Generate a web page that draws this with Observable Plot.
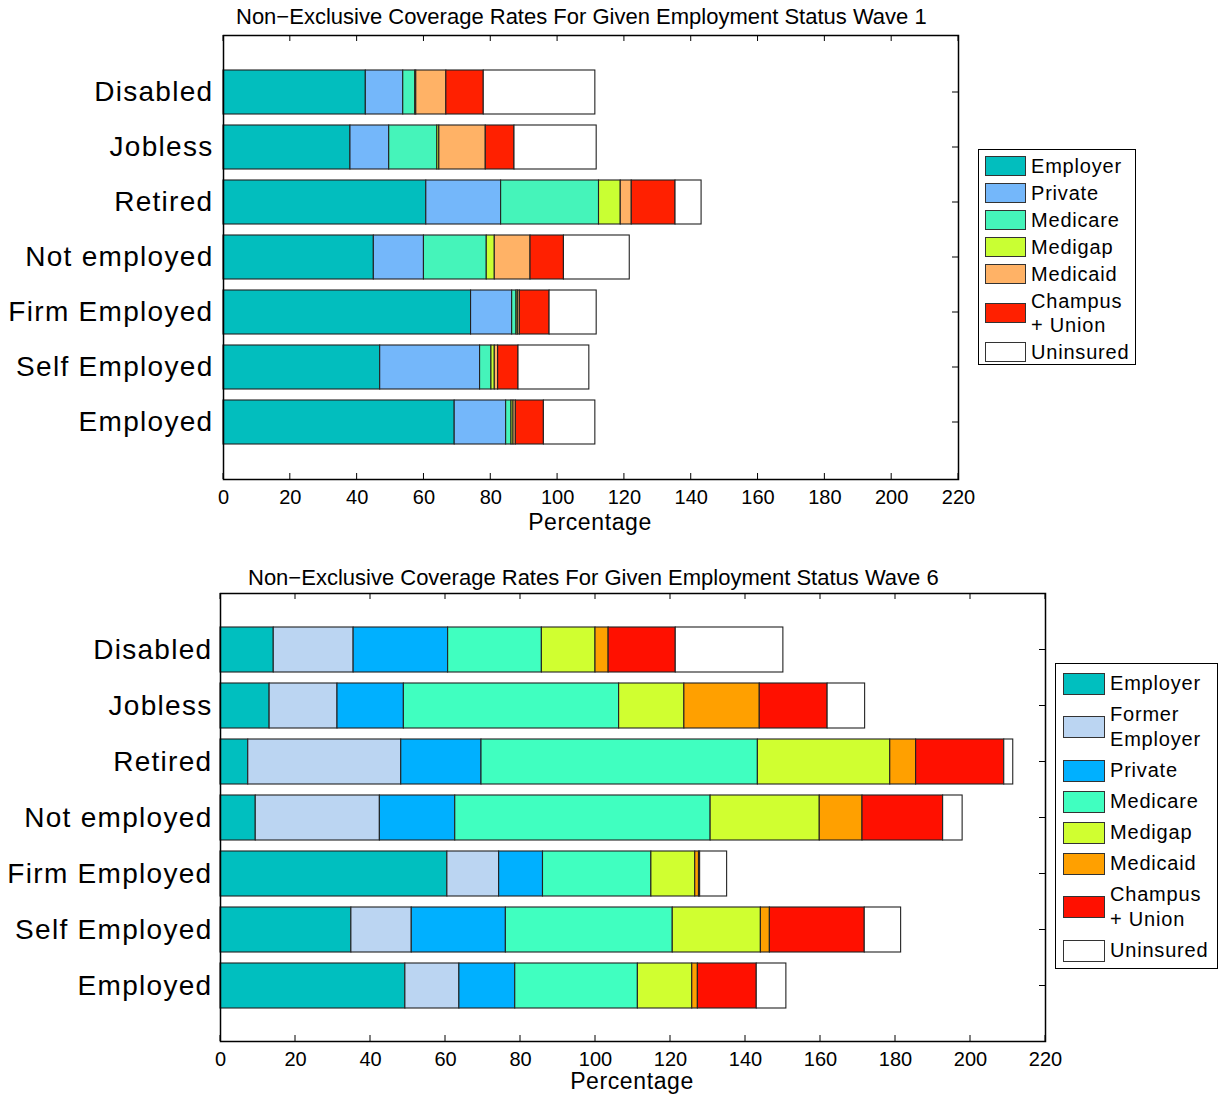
<!DOCTYPE html>
<html>
<head>
<meta charset="utf-8">
<script src="https://cdn.jsdelivr.net/npm/d3@7"></script>
<script src="https://cdn.jsdelivr.net/npm/@observablehq/plot@0.6"></script>
<style>
  html, body { margin: 0; padding: 0; background: #fff; }
  body { width: 1225px; height: 1099px; position: relative; overflow: hidden; font-family: "Liberation Sans", Arial, sans-serif; color: #000; }
  .abs { position: absolute; }
  .title { font-size: 22px; white-space: nowrap; line-height: 22px; }
  .xlab { font-size: 23px; letter-spacing: 0.6px; text-align: center; line-height: 23px; }
  .legend { border: 1px solid #000; background: #fff; box-sizing: border-box; font-size: 20px; letter-spacing: 0.8px; }
  .legend .row { display: flex; align-items: center; }
  .legend .sw { border: 1px solid #333; box-sizing: border-box; flex: none; }
  .legend .lb { margin-left: 5px; white-space: nowrap; }
</style>
</head>
<body>
<script>
// ---------- data ----------
const categories = ["Disabled", "Jobless", "Retired", "Not employed", "Firm Employed", "Self Employed", "Employed"];
const xTicks = [0, 20, 40, 60, 80, 100, 120, 140, 160, 180, 200, 220];

// Wave 1
const w1Series = ["Employer", "Private", "Medicare", "Medigap", "Medicaid", "Champus + Union", "Uninsured"];
const w1Colors = ["#02BEBE", "#74B7FA", "#45F4BA", "#C9FF33", "#FFB266", "#FF2000", "#FFFFFF"];
const w1Employer  = [42.6, 38.0, 60.7, 45.0, 74.1, 46.9, 69.2];
const w1Private   = [11.2, 11.6, 22.4, 15.0, 12.3, 29.9, 15.4];
const w1Medicare  = [3.6, 14.4, 29.3, 18.8, 1.3, 3.4, 1.6];
const w1Medigap   = [0.3, 0.6, 6.5, 2.4, 0.4, 1.0, 0.6];
const w1Medicaid  = [9.0, 13.9, 3.3, 10.7, 0.6, 1.0, 0.7];
const w1Champus   = [11.2, 8.6, 13.1, 10.0, 8.9, 6.1, 8.4];
const w1Uninsured = [33.4, 24.6, 7.8, 19.7, 14.1, 21.2, 15.4];

// Wave 6
const w6Series = ["Employer", "Former Employer", "Private", "Medicare", "Medigap", "Medicaid", "Champus + Union", "Uninsured"];
const w6Colors = ["#00BFBF", "#BBD5F2", "#00B0FF", "#40FFC0", "#D0FF30", "#FFA000", "#FF1000", "#FFFFFF"];
const w6Employer  = [14.2, 13.1, 7.4, 9.4, 60.5, 34.9, 49.3];
const w6Former    = [21.3, 18.1, 40.8, 33.1, 13.8, 16.1, 14.4];
const w6Private   = [25.2, 17.7, 21.4, 20.1, 11.7, 25.1, 14.9];
const w6Medicare  = [25.0, 57.4, 73.7, 68.1, 28.9, 44.5, 32.7];
const w6Medigap   = [14.3, 17.4, 35.3, 29.1, 11.7, 23.5, 14.5];
const w6Medicaid  = [3.5, 20.1, 6.9, 11.4, 1.0, 2.4, 1.5];
const w6Champus   = [17.9, 18.1, 23.5, 21.5, 0.3, 25.3, 15.7];
const w6Uninsured = [28.7, 10.0, 2.4, 5.2, 7.2, 9.7, 7.9];

const w1Values = [w1Employer, w1Private, w1Medicare, w1Medigap, w1Medicaid, w1Champus, w1Uninsured];
const w6Values = [w6Employer, w6Former, w6Private, w6Medicare, w6Medigap, w6Medicaid, w6Champus, w6Uninsured];

function rows(series, values) {
  const out = [];
  categories.forEach((c, ci) => {
    series.forEach((s, si) => out.push({cat: c, type: s, value: values[si][ci], order: si}));
  });
  return out;
}

// inward ticks on all four sides of the box (MATLAB style)
function boxTicks(len) {
  return (index, scales, values, dims) => {
    const {x, y} = scales;
    const L = dims.marginLeft, R = dims.width - dims.marginRight;
    const T = dims.marginTop, B = dims.height - dims.marginBottom;
    const g = d3.create("svg:g").attr("stroke", "#000").attr("stroke-width", 1);
    for (const v of xTicks) {
      const px = x(v);
      g.append("line").attr("x1", px).attr("x2", px).attr("y1", B).attr("y2", B - len);
      g.append("line").attr("x1", px).attr("x2", px).attr("y1", T).attr("y2", T + len);
    }
    const hb = y.bandwidth ? y.bandwidth() / 2 : 0;
    for (const c of categories) {
      const py = y(c) + hb;
      g.append("line").attr("x1", L).attr("x2", L + len).attr("y1", py).attr("y2", py);
      g.append("line").attr("x1", R).attr("x2", R - len).attr("y1", py).attr("y2", py);
    }
    return g.node();
  };
}

function makeChart({series, colors, values, width, height, mL, mR, mT, mB, yPad}) {
  const data = rows(series, values);
  const chart = Plot.plot({
    width, height,
    marginLeft: mL, marginRight: mR, marginTop: mT, marginBottom: mB,
    style: {fontFamily: "'Liberation Sans', Arial, sans-serif", color: "#000", background: "transparent", overflow: "visible"},
    x: {domain: [0, 220], axis: null},
    y: {domain: categories, paddingInner: 0.2, paddingOuter: 0.6, axis: null},
    color: {domain: series, range: colors},
    marks: [
      boxTicks(6),
      Plot.barX(data, Plot.stackX({y: "cat", x: "value", fill: "type", order: "order", stroke: "#222", strokeWidth: 1.1})),
      Plot.frame({stroke: "#000", strokeWidth: 1.5}),
      Plot.axisX(xTicks, {tickSize: 0, tickPadding: 10, fontSize: 20, label: null, tickFormat: d => String(d)}),
      Plot.axisY({tickSize: 0, tickPadding: yPad, fontSize: 28, label: null})
    ]
  });
  d3.select(chart).selectAll("g[aria-label='y-axis tick label'] text").attr("letter-spacing", "1.3px");
  return chart;
}

function place(el, left, top) {
  const d = document.createElement("div");
  d.className = "abs";
  d.style.left = left + "px";
  d.style.top = top + "px";
  d.appendChild(el);
  document.body.appendChild(d);
  return d;
}

function text(cls, str, left, top, width) {
  const d = document.createElement("div");
  d.className = "abs " + cls;
  d.style.left = left + "px";
  d.style.top = top + "px";
  if (width) d.style.width = width + "px";
  d.textContent = str;
  document.body.appendChild(d);
}

function legend(series, colors, labels, {left, top, width, height, padTop, rowH, lineH, swW, swH, swLeft}) {
  const box = document.createElement("div");
  box.className = "abs legend";
  Object.assign(box.style, {left: left + "px", top: top + "px", width: width + "px", height: height + "px", paddingTop: padTop + "px", paddingLeft: swLeft + "px"});
  series.forEach((s, i) => {
    const r = document.createElement("div");
    r.className = "row";
    const lines = labels[i];
    r.style.height = (lines.length === 1 ? rowH : lines.length * lineH + (rowH - lineH)) + "px";
    const sw = document.createElement("div");
    sw.className = "sw";
    Object.assign(sw.style, {width: swW + "px", height: swH + "px", background: colors[i]});
    const lb = document.createElement("div");
    lb.className = "lb";
    lb.style.lineHeight = lineH + "px";
    lb.innerHTML = lines.join("<br>");
    r.appendChild(sw); r.appendChild(lb);
    box.appendChild(r);
  });
  document.body.appendChild(box);
}

// ---------- top chart (Wave 1) ----------
const c1 = makeChart({series: w1Series, colors: w1Colors, values: w1Values,
  width: 1225, height: 540, mL: 223, mR: 267, mT: 35, mB: 61, yPad: 10});
place(c1, 0, 0);
text("title", "Non\u2212Exclusive Coverage Rates For Given Employment Status Wave 1", 236, 6);
text("xlab", "Percentage", 490, 511, 200);
legend(w1Series, w1Colors,
  [["Employer"], ["Private"], ["Medicare"], ["Medigap"], ["Medicaid"], ["Champus", "+ Union"], ["Uninsured"]],
  {left: 978, top: 149, width: 158, height: 216, padTop: 2, rowH: 27, lineH: 24, swW: 41, swH: 20, swLeft: 6});

// ---------- bottom chart (Wave 6) ----------
const c2 = makeChart({series: w6Series, colors: w6Colors, values: w6Values,
  width: 1225, height: 554, mL: 220, mR: 180, mT: 48, mB: 58, yPad: 8});
place(c2, 0, 545);
text("title", "Non\u2212Exclusive Coverage Rates For Given Employment Status Wave 6", 248, 567);
text("xlab", "Percentage", 532, 1070, 200);
legend(w6Series, w6Colors,
  [["Employer"], ["Former", "Employer"], ["Private"], ["Medicare"], ["Medigap"], ["Medicaid"], ["Champus", "+ Union"], ["Uninsured"]],
  {left: 1055, top: 663, width: 163, height: 306, padTop: 4, rowH: 31, lineH: 25, swW: 42, swH: 22, swLeft: 7});
</script>
</body>
</html>
